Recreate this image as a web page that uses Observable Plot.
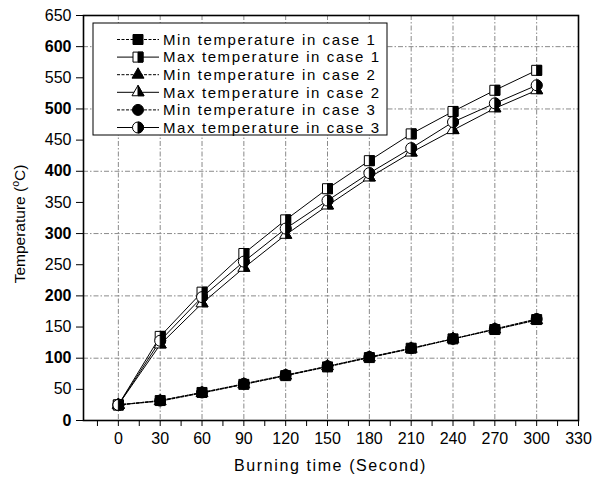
<!DOCTYPE html>
<html>
<head>
<meta charset="utf-8">
<script src="https://cdn.jsdelivr.net/npm/d3@7"></script>
<script src="https://cdn.jsdelivr.net/npm/@observablehq/plot@0.6"></script>
<style>
  html, body { margin: 0; padding: 0; background: #fff; }
  #chart { width: 592px; height: 478px; }
  svg { font-family: "Liberation Sans", Arial, sans-serif; }
</style>
</head>
<body>
<div id="chart"></div>
<script>
// Burning time in seconds
const times = [0, 30, 60, 90, 120, 150, 180, 210, 240, 270, 300];

// Minimum temperatures (°C)
const minCase1 = [25, 32, 45, 58, 72, 86, 101, 116, 131, 146, 162];
const minCase2 = [25, 31, 44, 58, 72, 87, 101, 115, 131, 146, 161];
const minCase3 = [25, 32, 45, 59, 73, 87, 102, 116, 131, 147, 163];

// Maximum temperatures (°C)
const maxCase1 = [25, 135, 206, 268, 322, 372, 417, 460, 496, 530, 562];
const maxCase2 = [25, 122, 188, 245, 298, 345, 390, 430, 466, 501, 530];
const maxCase3 = [25, 128, 198, 255, 308, 353, 397, 437, 479, 509, 538];

const seriesLabels = [
  "Min temperature in case 1",
  "Max temperature in case 1",
  "Min temperature in case 2",
  "Max temperature in case 2",
  "Min temperature in case 3",
  "Max temperature in case 3"
];

const xTicks = d3.range(0, 331, 30);
const xMinorTicks = d3.range(-15, 331, 30);
const yTicks = d3.range(0, 651, 50);

// Marker shapes, full and right-half variants
const rOf = size => Math.sqrt(size / Math.PI);
const square = { draw(c, s) { const r = rOf(s); c.moveTo(-r, -r); c.lineTo(r, -r); c.lineTo(r, r); c.lineTo(-r, r); c.closePath(); } };
const squareHalf = { draw(c, s) { const r = rOf(s); c.moveTo(0, -r); c.lineTo(r, -r); c.lineTo(r, r); c.lineTo(0, r); c.closePath(); } };
const circle = { draw(c, s) { const r = rOf(s) * 1.1; c.moveTo(r, 0); c.arc(0, 0, r, 0, 2 * Math.PI); c.closePath(); } };
const circleHalf = { draw(c, s) { const r = rOf(s) * 1.1; c.moveTo(0, -r); c.arc(0, 0, r, -Math.PI / 2, Math.PI / 2); c.closePath(); } };
const triPts = s => { const a = rOf(s) * 2.4, h = a * Math.sqrt(3) / 2; return { a, top: -2 * h / 3, bot: h / 3 }; };
const triangle = { draw(c, s) { const t = triPts(s); c.moveTo(0, t.top); c.lineTo(t.a / 2, t.bot); c.lineTo(-t.a / 2, t.bot); c.closePath(); } };
const triangleHalf = { draw(c, s) { const t = triPts(s); c.moveTo(0, t.top); c.lineTo(t.a / 2, t.bot); c.lineTo(0, t.bot); c.closePath(); } };

const series = [
  { label: seriesLabels[0], values: minCase1, dashed: true, full: square, half: null },
  { label: seriesLabels[1], values: maxCase1, dashed: false, full: square, half: squareHalf },
  { label: seriesLabels[2], values: minCase2, dashed: true, full: triangle, half: null },
  { label: seriesLabels[3], values: maxCase2, dashed: false, full: triangle, half: triangleHalf },
  { label: seriesLabels[4], values: minCase3, dashed: true, full: circle, half: null },
  { label: seriesLabels[5], values: maxCase3, dashed: false, full: circle, half: circleHalf }
];

const rows = s => times.map((t, i) => ({ t, v: s.values[i] }));

const marks = [
  Plot.gridX(xTicks.filter(d => d <= 300), { stroke: "#8a8a8a", strokeOpacity: 1, strokeDasharray: "5,2,1.5,2" }),
  Plot.gridY(d3.range(100, 601, 100), { stroke: "#8a8a8a", strokeOpacity: 1, strokeDasharray: "5,2,1.5,2" }),
  Plot.axisX(xTicks, { tickSize: 6, tickPadding: 6, fontSize: 16, label: null }),
  Plot.axisX(xMinorTicks, { tickSize: 6, tickFormat: () => "", label: null }),
  Plot.axisY(yTicks.filter(d => d % 100 === 0), { tickSize: 7, tickPadding: 5, fontSize: 16, fontWeight: "bold", label: null }),
  Plot.axisY(yTicks.filter(d => d % 100 !== 0), { tickSize: 7, tickPadding: 5, fontSize: 16, label: null })
];

for (const s of series) {
  marks.push(Plot.line(rows(s), { x: "t", y: "v", stroke: "black", strokeWidth: 1, strokeDasharray: s.dashed ? "3,1.5" : null }));
}
for (const s of series) {
  if (s.half) {
    marks.push(Plot.dot(rows(s), { x: "t", y: "v", r: 5, symbol: s.full, fill: "white", stroke: "black", strokeWidth: 1 }));
    marks.push(Plot.dot(rows(s), { x: "t", y: "v", r: 5, symbol: s.half, fill: "black", stroke: "black", strokeWidth: 1 }));
  } else {
    marks.push(Plot.dot(rows(s), { x: "t", y: "v", r: 5, symbol: s.full, fill: "black", stroke: "black", strokeWidth: 1 }));
  }
}
marks.push(Plot.frame({ stroke: "black", strokeWidth: 1.6 }));

const plot = Plot.plot({
  width: 592,
  height: 478,
  marginLeft: 83,
  marginRight: 14,
  marginTop: 15,
  marginBottom: 58,
  style: { fontFamily: "Liberation Sans, Arial, sans-serif", fontSize: "16px", color: "black", background: "white" },
  x: { domain: [-25, 330] },
  y: { domain: [0, 650] },
  marks
});

document.getElementById("chart").appendChild(plot);

// Axis titles and legend
const svg = d3.select(plot);
const xs = plot.scale("x");
const xMid = (xs.range[0] + xs.range[1]) / 2;

svg.append("text")
  .attr("x", xMid).attr("y", 471)
  .attr("text-anchor", "middle")
  .attr("font-size", 16).attr("letter-spacing", "1.6px")
  .attr("fill", "black")
  .text("Burning time (Second)");

const yt = svg.append("text")
  .attr("transform", "translate(25,224) rotate(-90)")
  .attr("text-anchor", "middle")
  .attr("font-size", 15.5)
  .attr("fill", "black");
yt.append("tspan").text("Temperature (");
yt.append("tspan").attr("font-size", 10.5).attr("dy", -6).text("o");
yt.append("tspan").attr("dy", 6).text("C)");

const lg = svg.append("g").attr("text-anchor", "start");
const box = { x: 93, y: 23, w: 294, h: 112 };
lg.append("rect").attr("x", box.x).attr("y", box.y).attr("width", box.w).attr("height", box.h)
  .attr("fill", "white").attr("stroke", "black").attr("stroke-width", 1);
series.forEach((s, i) => {
  const cy = 39.5 + i * 17.6;
  lg.append("line").attr("x1", 117).attr("x2", 159).attr("y1", cy).attr("y2", cy)
    .attr("stroke", "black").attr("stroke-width", 1)
    .attr("stroke-dasharray", s.dashed ? "3,1.5" : null);
  const size = 25 * Math.PI;
  const g = lg.append("g").attr("transform", `translate(138,${cy})`);
  g.append("path").attr("d", d3.symbol(s.full, size)())
    .attr("fill", s.half ? "white" : "black").attr("stroke", "black");
  if (s.half) g.append("path").attr("d", d3.symbol(s.half, size)()).attr("fill", "black").attr("stroke", "black");
  lg.append("text").attr("x", 163).attr("y", cy).attr("dy", "0.35em")
    .attr("text-anchor", "start")
    .attr("font-size", 15).attr("letter-spacing", "1.6px").attr("fill", "black")
    .text(s.label);
});
</script>
</body>
</html>
